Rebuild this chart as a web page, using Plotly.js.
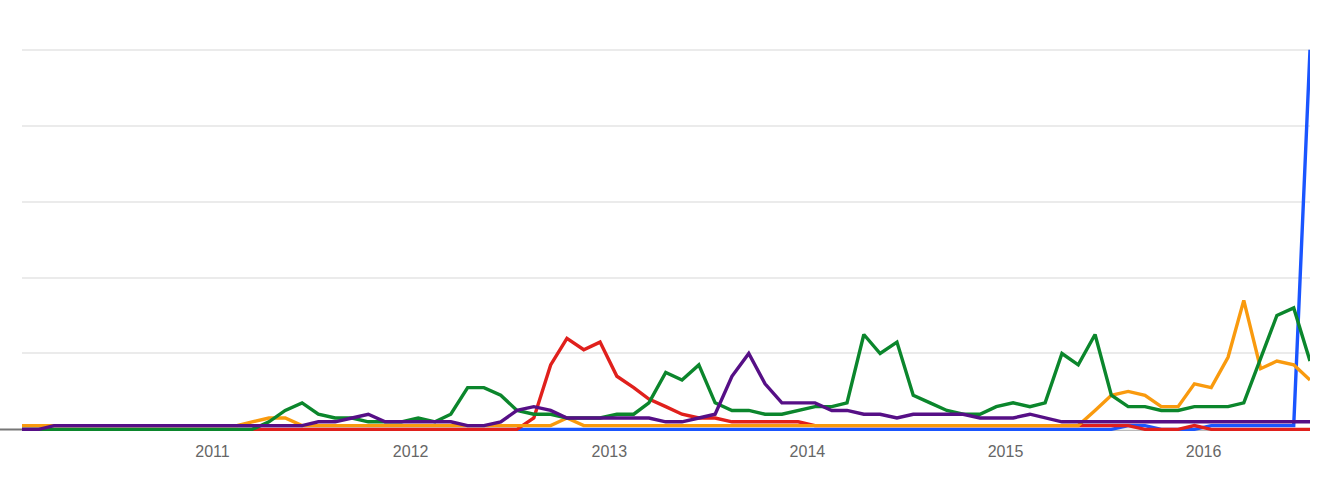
<!DOCTYPE html>
<html>
<head>
<meta charset="utf-8">
<script src="https://cdn.plot.ly/plotly-3.0.1.min.js"></script>
<style>
html,body{margin:0;padding:0;background:#fff;}
#chart{width:1334px;height:494px;}
</style>
</head>
<body>
<div id="chart"></div>
<script>
// Monthly points, Jan 2010 .. Jul 2016 (79 months)
var startYear = 2010, startMonth = 1, monthCount = 79;
var months = [];
for (var k = 0; k < monthCount; k++) {
  var m = startMonth - 1 + k;
  var y = startYear + Math.floor(m / 12);
  var mm = (m % 12) + 1;
  months.push(y + '-' + (mm < 10 ? '0' + mm : mm) + '-15');
}

var seriesBlue = [
  0,0,0,0,0,0,0,0,0,0,0,0,
  0,0,0,0,0,0,0,0,0,0,0,0,
  0,0,0,0,0,0,0,0,0,0,0,0,
  0,0,0,0,0,0,0,0,0,0,0,0,
  0,0,0,0,0,0,0,0,0,0,0,0,
  0,0,0,0,0,0,0,1,1,0,0,0,
  1,1,1,1,1,1,100
];
var seriesRed = [
  0,0,0,0,0,0,0,0,0,0,0,0,
  0,0,0,0,0,0,0,0,0,0,0,0,
  0,0,0,0,0,0,0,3,17,24,21,23,
  14,11,8,6,4,3,3,2,2,2,2,2,
  1,1,1,1,1,1,1,1,1,1,1,1,
  1,1,1,1,1,1,1,1,0,0,0,1,
  0,0,0,0,0,0,0
];
var seriesOrange = [
  1,1,1,1,1,1,1,1,1,1,1,1,
  1,1,2,3,3,1,1,1,1,1,1,1,
  1,1,1,1,1,1,1,1,1,3,1,1,
  1,1,1,1,1,1,1,1,1,1,1,1,
  1,1,1,1,1,1,1,1,1,1,1,1,
  1,1,1,1,1,5,9,10,9,6,6,12,
  11,19,34,16,18,17,13
];
var seriesGreen = [
  0,0,0,0,0,0,0,0,0,0,0,0,
  0,0,0,2,5,7,4,3,3,2,2,2,
  3,2,4,11,11,9,5,4,4,3,3,3,
  4,4,7,15,13,17,7,5,5,4,4,5,
  6,6,7,25,20,23,9,7,5,4,4,6,
  7,6,7,20,17,25,9,6,6,5,5,6,
  6,6,7,19,30,32,18
];
var seriesPurple = [
  0,0,1,1,1,1,1,1,1,1,1,1,
  1,1,1,1,1,1,2,2,3,4,2,2,
  2,2,2,1,1,2,5,6,5,3,3,3,
  3,3,3,2,2,3,4,14,20,12,7,7,
  7,5,5,4,4,3,4,4,4,4,3,3,
  3,4,3,2,2,2,2,2,2,2,2,2,
  2,2,2,2,2,2,2
];

var colors = {
  blue: '#1a55ff',
  red: '#e0201c',
  orange: '#f99a0e',
  green: '#0b862c',
  purple: '#560f86'
};

function trace(vals, color) {
  return {
    x: months, y: vals, type: 'scatter', mode: 'lines',
    line: {color: color, width: 3.4, shape: 'linear'},
    hoverinfo: 'x+y', showlegend: false
  };
}

var data = [
  trace(seriesBlue, colors.blue),
  trace(seriesRed, colors.red),
  trace(seriesOrange, colors.orange),
  trace(seriesGreen, colors.green),
  trace(seriesPurple, colors.purple)
];

var layout = {
  width: 1334, height: 494,
  margin: {l: 22, r: 24, t: 46, b: 57, pad: 0},
  paper_bgcolor: '#ffffff', plot_bgcolor: '#ffffff',
  showlegend: false,
  xaxis: {
    type: 'date',
    range: ['2010-01-15', '2016-07-15'],
    tick0: '2011-01-01', dtick: 'M12', tickformat: '%Y',
    showgrid: false, zeroline: false, showline: false,
    ticks: '', ticklabelstandoff: 3,
    tickfont: {family: 'Arial, "Liberation Sans", sans-serif', size: 16, color: '#666666'}
  },
  yaxis: {
    range: [-2, 101],
    tickvals: [0, 20, 40, 60, 80, 100],
    showticklabels: false,
    showgrid: true, gridcolor: '#ebebeb', gridwidth: 2,
    zeroline: false, showline: false, ticks: ''
  },
  shapes: [{
    type: 'line', xref: 'paper', yref: 'y',
    x0: -22 / 1288, x1: 1, y0: 0, y1: 0,
    line: {color: '#777777', width: 2}, layer: 'below'
  }]
};

Plotly.newPlot('chart', data, layout, {displayModeBar: false, staticPlot: true});
</script>
</body>
</html>
